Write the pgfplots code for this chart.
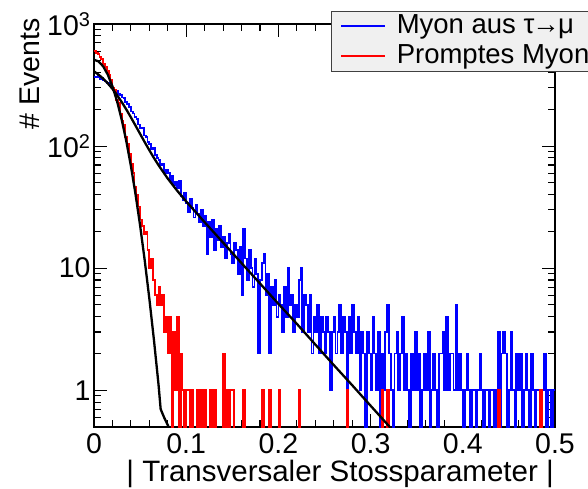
\documentclass[border=0pt]{standalone}
\usepackage{fontspec}
\setmainfont{Liberation Sans}
\usepackage{pgfplots}
\usepackage{pgfplotstable}
\pgfplotsset{compat=1.18}

% Impact-parameter histograms, bin width 0.002 (left bin edges).
% Empty bins are stored as 0.1, below the lower edge of the log axis.
\pgfplotstableread{
x mu prompt
0.000 370 600
0.002 365 580
0.004 378 565
0.006 352 540
0.008 360 515
0.010 345 470
0.012 338 445
0.014 330 415
0.016 318 380
0.018 310 350
0.020 298 300
0.022 290 290
0.024 284 240
0.026 268 225
0.028 262 185
0.030 250 160
0.032 246 150
0.034 228 118
0.036 220 105
0.038 208 86
0.040 192 72
0.042 185 60
0.044 172 46
0.046 166 40
0.048 150 32
0.050 140 25
0.052 141 22
0.054 122 19
0.056 118 20
0.058 108 14
0.060 104 10
0.062 95 12
0.064 97 8
0.066 84 6
0.068 80 5
0.070 77 7
0.072 70 5
0.074 72 6
0.076 60 3
0.078 64 4
0.080 60 2
0.082 52 4
0.084 57 0.1
0.086 48 3
0.088 51 1
0.090 45 4
0.092 52 0.1
0.094 39 2
0.096 36 1
0.098 41 0.1
0.100 34 1
0.102 29 1
0.104 37 0.1
0.106 31 1
0.108 26 0.1
0.110 33 0.1
0.112 28 1
0.114 24 0.1
0.116 30 1
0.118 22 0.1
0.120 27 1
0.122 13 0.1
0.124 24 0.1
0.126 18 1
0.128 25 0.1
0.130 14 1
0.132 21 0.1
0.134 17 0.1
0.136 22 0.1
0.138 15 0.1
0.140 18 2
0.142 12 0.1
0.144 16 1
0.146 19 0.1
0.148 13 1
0.150 11 1
0.152 16 0.1
0.154 14 0.1
0.156 9 0.1
0.158 15 0.1
0.160 6 0.1
0.162 21 1
0.164 12 0.1
0.166 8 0.1
0.168 14 0.1
0.170 10 0.1
0.172 7 0.1
0.174 12 0.1
0.176 9 0.1
0.178 2 0.1
0.180 8 0.1
0.182 11 1
0.184 13 0.1
0.186 6 0.1
0.188 9 0.1
0.190 2 1
0.192 7 0.1
0.194 5 0.1
0.196 8 0.1
0.198 4 0.1
0.200 6 1
0.202 5 0.1
0.204 3 0.1
0.206 7 0.1
0.208 4 0.1
0.210 10 0.1
0.212 5 0.1
0.214 6 0.1
0.216 3 0.1
0.218 5 0.1
0.220 4 0.1
0.222 8 1
0.224 10 0.1
0.226 3 0.1
0.228 6 0.1
0.230 5 0.1
0.232 3 0.1
0.234 6 0.1
0.236 2 0.1
0.238 4 0.1
0.240 3 0.1
0.242 5 0.1
0.244 2 0.1
0.246 4 0.1
0.248 3 0.1
0.250 2 0.1
0.252 4 0.1
0.254 3 0.1
0.256 1 0.1
0.258 3 0.1
0.260 4 0.1
0.262 2 0.1
0.264 3 0.1
0.266 5 0.1
0.268 2 0.1
0.270 4 0.1
0.272 3 0.1
0.274 1 1
0.276 4 0.1
0.278 2 0.1
0.280 5 0.1
0.282 3 0.1
0.284 2 0.1
0.286 4 0.1
0.288 1 0.1
0.290 3 0.1
0.292 2 0.1
0.294 0.1 0.1
0.296 3 0.1
0.298 2 0.1
0.300 1 0.1
0.302 4 0.1
0.304 2 0.1
0.306 1 0.1
0.308 3 0.1
0.310 0.1 0.1
0.312 2 1
0.314 1 0.1
0.316 3 0.1
0.318 5 1
0.320 2 0.1
0.322 1 0.1
0.324 0.1 0.1
0.326 2 0.1
0.328 3 0.1
0.330 1 0.1
0.332 2 0.1
0.334 4 0.1
0.336 1 0.1
0.338 2 0.1
0.340 1 0.1
0.342 0.1 0.1
0.344 2 0.1
0.346 1 0.1
0.348 3 0.1
0.350 1 0.1
0.352 2 0.1
0.354 0.1 0.1
0.356 1 0.1
0.358 2 0.1
0.360 1 0.1
0.362 3 0.1
0.364 0.1 0.1
0.366 1 0.1
0.368 2 0.1
0.370 1 0.1
0.372 0.1 0.1
0.374 2 0.1
0.376 2 0.1
0.378 3 0.1
0.380 1 0.1
0.382 4 0.1
0.384 1 0.1
0.386 2 0.1
0.388 2 0.1
0.390 1 0.1
0.392 5 0.1
0.394 1 0.1
0.396 2 0.1
0.398 1 0.1
0.400 0.1 0.1
0.402 1 0.1
0.404 2 0.1
0.406 1 0.1
0.408 0.1 0.1
0.410 1 0.1
0.412 1 0.1
0.414 0.1 0.1
0.416 1 0.1
0.418 2 0.1
0.420 1 0.1
0.422 0.1 0.1
0.424 1 0.1
0.426 1 0.1
0.428 0.1 0.1
0.430 1 0.1
0.432 1 0.1
0.434 0.1 0.1
0.436 1 0.1
0.438 3 1
0.440 0.1 0.1
0.442 2 0.1
0.444 3 0.1
0.446 2 0.1
0.448 0.1 0.1
0.450 1 0.1
0.452 3 0.1
0.454 1 0.1
0.456 0.1 0.1
0.458 2 0.1
0.460 1 0.1
0.462 2 0.1
0.464 0.1 0.1
0.466 1 0.1
0.468 2 0.1
0.470 1 0.1
0.472 0.1 0.1
0.474 2 0.1
0.476 1 0.1
0.478 0.1 0.1
0.480 1 0.1
0.482 1 0.1
0.484 0.1 1
0.486 1 0.1
0.488 2 0.1
0.490 0.1 0.1
0.492 1 0.1
0.494 1 0.1
0.496 0.1 0.1
0.498 1 0.1
0.500 1 0.1
}\histo

% Fitted curves
\pgfplotstableread{
x y
0.000 409
0.005 384.4
0.010 356.7
0.015 326.4
0.020 294.4
0.025 261.9
0.030 229.9
0.035 199.8
0.040 172.1
0.045 147.3
0.050 125.9
0.055 107.7
0.060 92.5
0.065 80.0
0.070 69.7
0.080 54.2
0.090 43.3
0.100 35.2
0.120 23.8
0.140 16.2
0.160 11.0
0.180 7.5
0.200 5.1
0.220 3.5
0.240 2.37
0.260 1.61
0.280 1.10
0.300 0.747
0.320 0.508
0.340 0.346
}\fitmu

\pgfplotstableread{
x y
0.000 509
0.005 493.3
0.010 449.2
0.015 384.2
0.020 308.7
0.025 233.0
0.030 165.3
0.035 110.1
0.040 68.9
0.045 40.5
0.050 22.4
0.055 11.6
0.060 5.65
0.065 2.59
0.070 1.11
0.0723 0.70
0.076 0.60
0.081 0.50
0.090 0.38
}\fitprompt

\begin{document}
\begin{tikzpicture}
\begin{axis}[
  scale only axis,
  width=461pt, height=403pt,
  xmin=0, xmax=0.5,
  ymode=log, ymin=0.5, ymax=1000,
  axis line style={line width=1.5pt},
  tick style={line width=1.1pt, black},
  major tick length=13pt, minor tick length=7pt,
  xtick={0,0.1,0.2,0.3,0.4,0.5},
  xticklabels={0,0.1,0.2,0.3,0.4,0.5},
  minor x tick num=4,
  ytick={1,10,100,1000},
  yticklabels={1,10,10\textsuperscript{2},10\textsuperscript{3}},
  minor ytick={0.6,0.7,0.8,0.9,2,3,4,5,6,7,8,9,20,30,40,50,60,70,80,90,200,300,400,500,600,700,800,900},
  /pgf/number format/assume math mode=true,
  tick label style={font=\fontsize{28.5}{34}\selectfont},
  xticklabel style={yshift=-3pt},
  legend style={
    at={(axis description cs:0.5135,1.0323)}, anchor=north west,
    draw=black!75, fill=black!6, line width=0.9pt,
    inner xsep=9.3pt, inner ysep=2.3pt,
    font=\fontsize{27.5}{30}\selectfont,
    row sep=5pt, column sep=10.7pt,
    nodes={inner sep=0pt, text height=19.5pt, text depth=5.5pt},
  },
  legend cell align=left,
  legend image code/.code={\draw[#1, line width=1.6pt] (0pt,0pt) -- (44pt,0pt);},
]
\addplot[const plot mark left, blue, line width=1.8pt] table[x=x, y=mu] {\histo};
\addlegendentry{Myon aus τ\kern-2pt→\kern-2ptμ}
\addplot[const plot mark left, red, line width=1.8pt] table[x=x, y=prompt] {\histo};
\addlegendentry{Promptes Myon}
\addplot[black, line width=2.3pt, forget plot] table {\fitmu};
\addplot[black, line width=2.3pt, forget plot] table {\fitprompt};
\end{axis}
\node[rotate=90, anchor=base east, inner sep=0pt, font=\fontsize{28.5}{34}\selectfont] at (-54pt,409pt) {\# Events};
\node[anchor=base east, inner sep=0pt, font=\fontsize{29.5}{34}\selectfont] at (460pt,-54pt) {| Transversaler Stossparameter |};
\pgfresetboundingbox
\path[use as bounding box] (-94pt,-62pt) rectangle (494pt,427pt);
\end{tikzpicture}
\end{document}
